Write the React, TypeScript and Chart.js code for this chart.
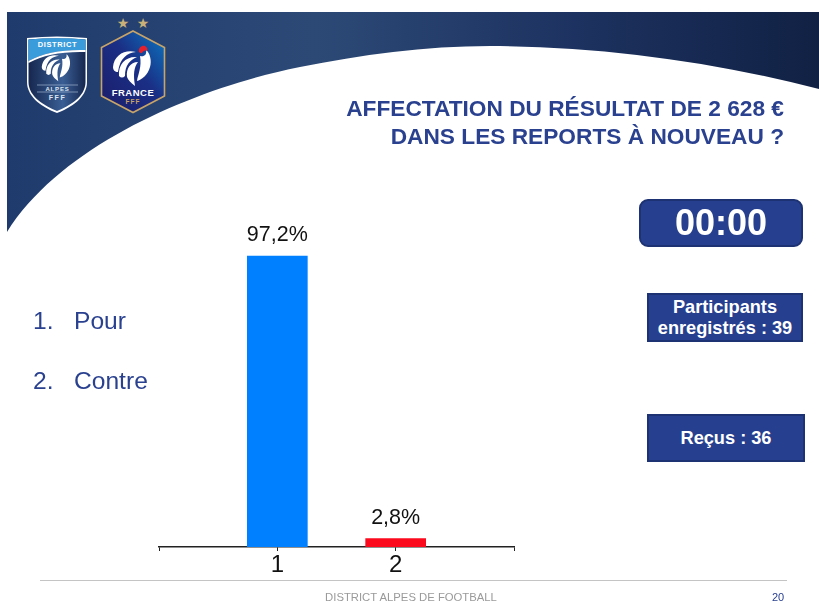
import React, { useEffect, useRef } from "react";
import { Chart, registerables } from "chart.js";

Chart.register(...registerables);

const categories = ["", "1", "2", ""];
const values = [null, 97.2, 2.8, null];
const barColors = ["#007fff", "#007fff", "#fb0a1e", "#fb0a1e"];
const choices = ["Pour", "Contre"];
const titleLines = ["AFFECTATION DU RÉSULTAT DE 2 628 €", "DANS LES REPORTS À NOUVEAU ?"];

const BLUE = "#2a4190";

const valueLabelPlugin = {
  id: "valueLabels",
  afterDatasetsDraw(chart: any) {
    const { ctx } = chart;
    const meta = chart.getDatasetMeta(0);
    ctx.save();
    ctx.font = '21.5px "Liberation Sans"';
    ctx.fillStyle = "#111";
    ctx.textAlign = "center";
    ctx.textBaseline = "alphabetic";
    meta.data.forEach((bar: any, i: number) => {
      const v = values[i];
      if (v == null) return;
      ctx.fillText(v.toFixed(1).replace(".", ",") + "%", bar.x, bar.y - 14.5);
    });
    ctx.restore();
  },
};

function Rooster({ x, y, size, comb }: { x: number; y: number; size: number; comb?: boolean }) {
  return (
    <g transform={`translate(${x} ${y}) scale(${size / 40})`}>
      <g fill="#fff">
        <path d="M1 20 C2 8 13 2 24 5 C15 6 8 11 6 25 C3 25 1 23 1 20Z" />
        <path d="M7 29 C6 17 14 9 25 10 C18 13 13 18 13 29 C11 31 9 31 7 29Z" />
        <path d="M15 30 C14 22 18 15 26 15 C22 20 21 27 23 39 C19 36 16 33 15 30Z" />
        <path d="M28 9 C32 10 35 8 34 3 C38 6 40 14 38 20 C36 28 29 33 25 34 C26 27 30 20 28 9Z" />
      </g>
      {comb && <path d="M27 5 C26 1 30 -2 33 -1 C35 0 36 2 35 4 C33 3 31 4 30 6 C29 6 28 6 27 5Z" fill="#e4202c" />}
    </g>
  );
}

function Background() {
  return (
    <svg width={819} height={601} style={{ position: "absolute", left: 0, top: 0 }}>
      <defs>
        <linearGradient id="band" x1="0" y1="0" x2="1" y2="0">
          <stop offset="0" stopColor="#1f3b6d" />
          <stop offset="0.38" stopColor="#2c4976" />
          <stop offset="0.7" stopColor="#1d3260" />
          <stop offset="1" stopColor="#112144" />
        </linearGradient>
        <linearGradient id="fff" x1="0" y1="1" x2="1" y2="0">
          <stop offset="0" stopColor="#1c1c6a" />
          <stop offset="0.55" stopColor="#1a2f85" />
          <stop offset="1" stopColor="#0a78c2" />
        </linearGradient>
        <linearGradient id="shield" x1="0" y1="0" x2="1" y2="0">
          <stop offset="0" stopColor="#16274f" />
          <stop offset="0.6" stopColor="#3a5f95" />
          <stop offset="1" stopColor="#16274f" />
        </linearGradient>
      </defs>
      <path
        d="M7 12 H819 V89 C715 62 600 46 490 46 C425 46 360 55 300 67 C205 86 65 140 7 232 Z"
        fill="url(#band)"
      />
      {/* District shield */}
      <path d="M27 38 Q57 35 87 38 V82 C87 98 70 108 57 113 C44 108 27 98 27 82 Z" fill="#fff" />
      <path d="M28.5 39.5 Q57 37 85.5 39.5 V82 C85.5 97 69 106 57 111 C45 106 28.5 97 28.5 82 Z" fill="url(#shield)" />
      <path d="M28.5 39.5 Q57 37 85.5 39.5 V50 Q50 49 28.5 61 Z" fill="#3b9cdc" />
      <path d="M28.5 61 Q50 49 85.5 50 V52 Q50 51 28.5 63 Z" fill="#fff" />
      <text x="57.5" y="47" textAnchor="middle" fontFamily="Liberation Sans" fontWeight="bold" fontSize="7.5" fill="#fff" letterSpacing="0.6">DISTRICT</text>
      <Rooster x={41} y={52} size={30} />
      <line x1="37" y1="85" x2="78" y2="85" stroke="#9fb3cf" strokeWidth="0.7" />
      <line x1="37" y1="92" x2="78" y2="92" stroke="#9fb3cf" strokeWidth="0.7" />
      <text x="57.5" y="91" textAnchor="middle" fontFamily="Liberation Sans" fontWeight="bold" fontSize="6" fill="#dfe6f0" letterSpacing="0.8">ALPES</text>
      <text x="57.5" y="100" textAnchor="middle" fontFamily="Liberation Sans" fontWeight="bold" fontSize="7" fill="#dfe6f0" letterSpacing="1.5">FFF</text>
      {/* FFF hexagon */}
      <path d="M133 31 L164.5 47.5 V96 L133 112.5 L101.5 96 V47.5 Z" fill="url(#fff)" stroke="#c9a468" strokeWidth="1.6" />
      <Rooster x={112} y={47} size={40} comb />
      <text x="133" y="96" textAnchor="middle" fontFamily="Liberation Sans" fontWeight="bold" fontSize="9.5" fill="#fff" letterSpacing="0.5">FRANCE</text>
      <text x="133" y="104" textAnchor="middle" fontFamily="Liberation Sans" fontWeight="bold" fontSize="6.5" fill="#c9a468" letterSpacing="1">FFF</text>
      <text x="123" y="28" textAnchor="middle" fontFamily="DejaVu Sans" fontSize="14" fill="#c8b078">★</text>
      <text x="143" y="28" textAnchor="middle" fontFamily="DejaVu Sans" fontSize="14" fill="#c8b078">★</text>
      {/* Footer rule */}
      <line x1="40" y1="580.5" x2="787" y2="580.5" stroke="#c4c4c4" strokeWidth="1.2" />
    </svg>
  );
}

const abs = (left: number, top: number, width: number, height: number): React.CSSProperties => ({
  position: "absolute",
  left,
  top,
  width,
  height,
  boxSizing: "border-box",
});

const boxStyle: React.CSSProperties = {
  background: "#26408f",
  border: "2px solid #1d3273",
  color: "#fff",
  fontWeight: "bold",
  display: "flex",
  alignItems: "center",
  justifyContent: "center",
  textAlign: "center",
};

export default function App() {
  const ref = useRef<HTMLCanvasElement>(null);

  useEffect(() => {
    const chart = new Chart(ref.current as HTMLCanvasElement, {
      type: "bar",
      data: {
        labels: categories,
        datasets: [
          {
            data: values as any,
            backgroundColor: barColors,
            barThickness: 60,
          },
        ],
      },
      plugins: [valueLabelPlugin],
      options: {
        animation: false,
        responsive: false,
        layout: { padding: { left: 159, right: 305, top: 247.6, bottom: 0 } },
        plugins: { legend: { display: false }, tooltip: { enabled: false }, title: { display: false } },
        scales: {
          x: {
            offset: false,
            afterFit: (s: any) => {
              s.height = 54;
            },
            grid: { display: true, offset: false, drawOnChartArea: false, drawTicks: true, tickLength: 4, color: "#222", lineWidth: 1 },
            border: { display: true, color: "#222", width: 1.4 },
            ticks: {
              font: { family: "Liberation Sans", size: 24 },
              color: "#111",
              padding: 0,
              maxRotation: 0,
              autoSkip: false,
            },
          },
          y: { display: false, min: 0, max: 100 },
        },
      },
    });
    return () => chart.destroy();
  }, []);

  return (
    <div style={{ ...abs(0, 0, 819, 601), overflow: "hidden", background: "#fff", fontFamily: '"Liberation Sans", sans-serif' }}>
      <style>{`html,body{margin:0;overflow:hidden;background:#fff}`}</style>
      <Background />
      <canvas ref={ref} width={819} height={601} style={{ position: "absolute", left: 0, top: 0, width: 819, height: 601 }} />

      {titleLines.map((line, i) => (
        <div
          key={line}
          style={{
            position: "absolute",
            right: 35,
            top: 95 + i * 27.5,
            fontSize: 22.7,
            lineHeight: "27px",
            fontWeight: "bold",
            color: BLUE,
            whiteSpace: "nowrap",
          }}
        >
          {line}
        </div>
      ))}

      {choices.map((c, i) => (
        <React.Fragment key={c}>
          <div style={{ position: "absolute", left: 33, top: 306 + i * 60, fontSize: 24.6, lineHeight: "30px", color: BLUE }}>{i + 1}.</div>
          <div style={{ position: "absolute", left: 74, top: 306 + i * 60, fontSize: 24.6, lineHeight: "30px", color: BLUE }}>{c}</div>
        </React.Fragment>
      ))}

      <div style={{ ...abs(639, 199, 164, 48), ...boxStyle, borderRadius: 9, fontSize: 36 }}>00:00</div>
      <div style={{ ...abs(647, 293, 156, 49), ...boxStyle, fontSize: 18.2, lineHeight: "21px" }}>
        Participants
        <br />
        enregistrés : 39
      </div>
      <div style={{ ...abs(647, 414, 158, 48), ...boxStyle, fontSize: 18.2 }}>Reçus : 36</div>

      <div style={{ position: "absolute", left: 261, width: 300, top: 590, textAlign: "center", fontSize: 11.3, lineHeight: "14px", color: "#9a9a9a" }}>
        DISTRICT ALPES DE FOOTBALL
      </div>
      <div style={{ position: "absolute", left: 772, top: 590, fontSize: 11, lineHeight: "14px", color: BLUE }}>20</div>
    </div>
  );
}
